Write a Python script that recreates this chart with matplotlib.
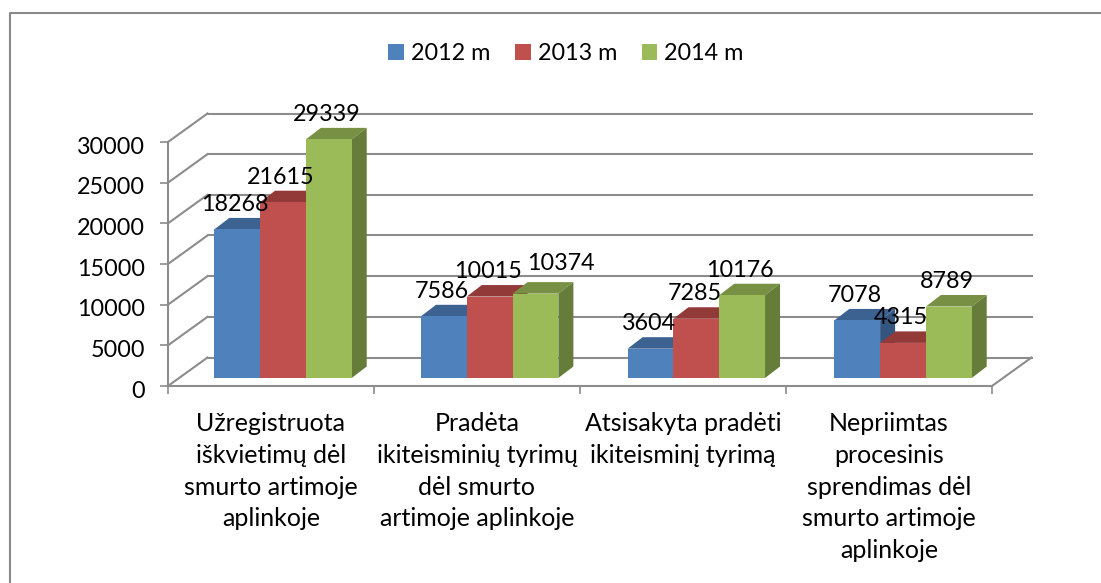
import matplotlib
matplotlib.use("Agg")
import matplotlib.pyplot as plt
from matplotlib.patches import Polygon, Rectangle
from matplotlib.transforms import ScaledTranslation

categories = [
    "Užregistruota\niškvietimų dėl\nsmurto artimoje\naplinkoje",
    "Pradėta\nikiteisminių tyrimų\ndėl smurto\nartimoje aplinkoje",
    "Atsisakyta pradėti\nikiteisminį tyrimą",
    "Nepriimtas\nprocesinis\nsprendimas dėl\nsmurto artimoje\naplinkoje",
]
series_names = ["2012 m", "2013 m", "2014 m"]
values_2012 = [18268, 7586, 3604, 7078]
values_2013 = [21615, 10015, 7285, 4315]
values_2014 = [29339, 10374, 10176, 8789]
y_ticks = [0, 5000, 10000, 15000, 20000, 25000, 30000]

front_colors = ["#4F81BD", "#C0504D", "#9BBB59"]
top_colors = ["#3C6291", "#923A38", "#779044"]
side_colors = ["#335580", "#7F3230", "#657D39"]
GRID = "#8C8C8C"
FONT = "Lato"
FS = 16.8
CAT_FS = 18

W, H = 1101, 583
fig = plt.figure(figsize=(W / 100, H / 100), dpi=100)
plt.rcParams["font.family"] = FONT

# front plane of the 3-D box, in pixels
L, R, T, B = 168, 992, 142, 386
ax = fig.add_axes([L / W, 1 - B / H, (R - L) / W, (B - T) / H])
ax.set_xlim(-0.5, 3.5)
ax.set_ylim(0, 30000)
ax.patch.set_alpha(0)
PX = 4 / (R - L)          # one pixel in x data units
PY = 30000 / (B - T)      # one pixel in y data units

# chart border: left and top only, the crop removes the others
fig.add_artist(plt.Line2D([9.5 / W, 9.5 / W, 1], [0, 1 - 12.5 / H, 1 - 12.5 / H], color="#8A8A8A", lw=1.5))

# walls
BX, BY = 39.5 * PX, 28.5 * PY
for v in y_ticks:
    ax.plot([-0.5, -0.5 + BX], [v, v + BY], color=GRID, lw=1.5, clip_on=False, zorder=1)
    ax.plot([-0.5 + BX, 3.5 + BX], [v + BY, v + BY], color=GRID, lw=1.5, clip_on=False, zorder=1)
ax.plot([3.5, 3.5 + BX], [0, BY], color=GRID, lw=1.5, clip_on=False, zorder=1)

# bars
BAR_W = 45.8 * PX
DX, DY = 15 * PX, 11.5 * PY
BASE = 8 * PY
SHIFT = 12 * PX
STEP = 1 + 0.67 * PX
all_values = [values_2012, values_2013, values_2014]
label_nudge = {(1, 2): (27, 5)}
z = 3
for i in range(len(categories)):
    for s, vals in enumerate(all_values):
        x0 = i * STEP + SHIFT + (s - 1.5) * BAR_W
        v = vals[i]
        top = BASE + v
        ax.add_patch(Polygon([(x0, top), (x0 + DX, top + DY), (x0 + BAR_W + DX, top + DY), (x0 + BAR_W, top)],
                             fc=top_colors[s], ec="none", clip_on=False, zorder=z))
        ax.add_patch(Polygon([(x0 + BAR_W, BASE), (x0 + BAR_W + DX, BASE + DY), (x0 + BAR_W + DX, top + DY), (x0 + BAR_W, top)],
                             fc=side_colors[s], ec="none", clip_on=False, zorder=z))
        ax.bar(x0, v, BAR_W, bottom=BASE, align="edge", color=front_colors[s], clip_on=False, zorder=z + 0.5)
        z += 1
for i in range(len(categories)):
    for s, vals in enumerate(all_values):
        nx, ny = label_nudge.get((i, s), (0, 0))
        ax.text(i * STEP + SHIFT + (s - 1) * BAR_W + (nx - 2) * PX, BASE + vals[i] + (27 + ny) * PY,
                str(vals[i]), ha="center", va="center_baseline", fontsize=FS, color="black", zorder=100, clip_on=False)

# axes
for side in ("top", "right"):
    ax.spines[side].set_visible(False)
for side in ("left", "bottom"):
    ax.spines[side].set_color(GRID)
    ax.spines[side].set_linewidth(1.5)
ax.set_yticks(y_ticks)
ax.tick_params(axis="y", which="major", length=5.76, width=1.2, color=GRID, pad=11, labelsize=FS)
down = ScaledTranslation(0, -3 / 100, fig.dpi_scale_trans)
for t in ax.get_yticklabels():
    t.set_transform(t.get_transform() + down)
ax.set_xticks([-0.5, 0.5, 1.5, 2.5, 3.5])
ax.set_xticklabels([])
ax.tick_params(axis="x", which="major", length=5.76, width=1.2, color=GRID)
ax.set_xticks(range(4), minor=True)
ax.set_xticklabels(categories, minor=True, fontsize=CAT_FS)
ax.tick_params(axis="x", which="minor", length=0, pad=18.5)
for t in ax.get_xticklabels(minor=True):
    t.set_linespacing(1.47)
    t.set_va("top")
    t.set_ha("center")

# legend
handles = [Rectangle((0, 0), 1, 1, fc=c, ec="none") for c in front_colors]
fig.legend(handles, series_names, loc="center", bbox_to_anchor=(566 / W, 1 - 53.5 / H), ncol=3, frameon=False,
           fontsize=FS, handlelength=0.66, handleheight=0.66, handletextpad=0.3, columnspacing=1.08,
           borderpad=0, borderaxespad=0)

fig.savefig("out.png", dpi=100)
